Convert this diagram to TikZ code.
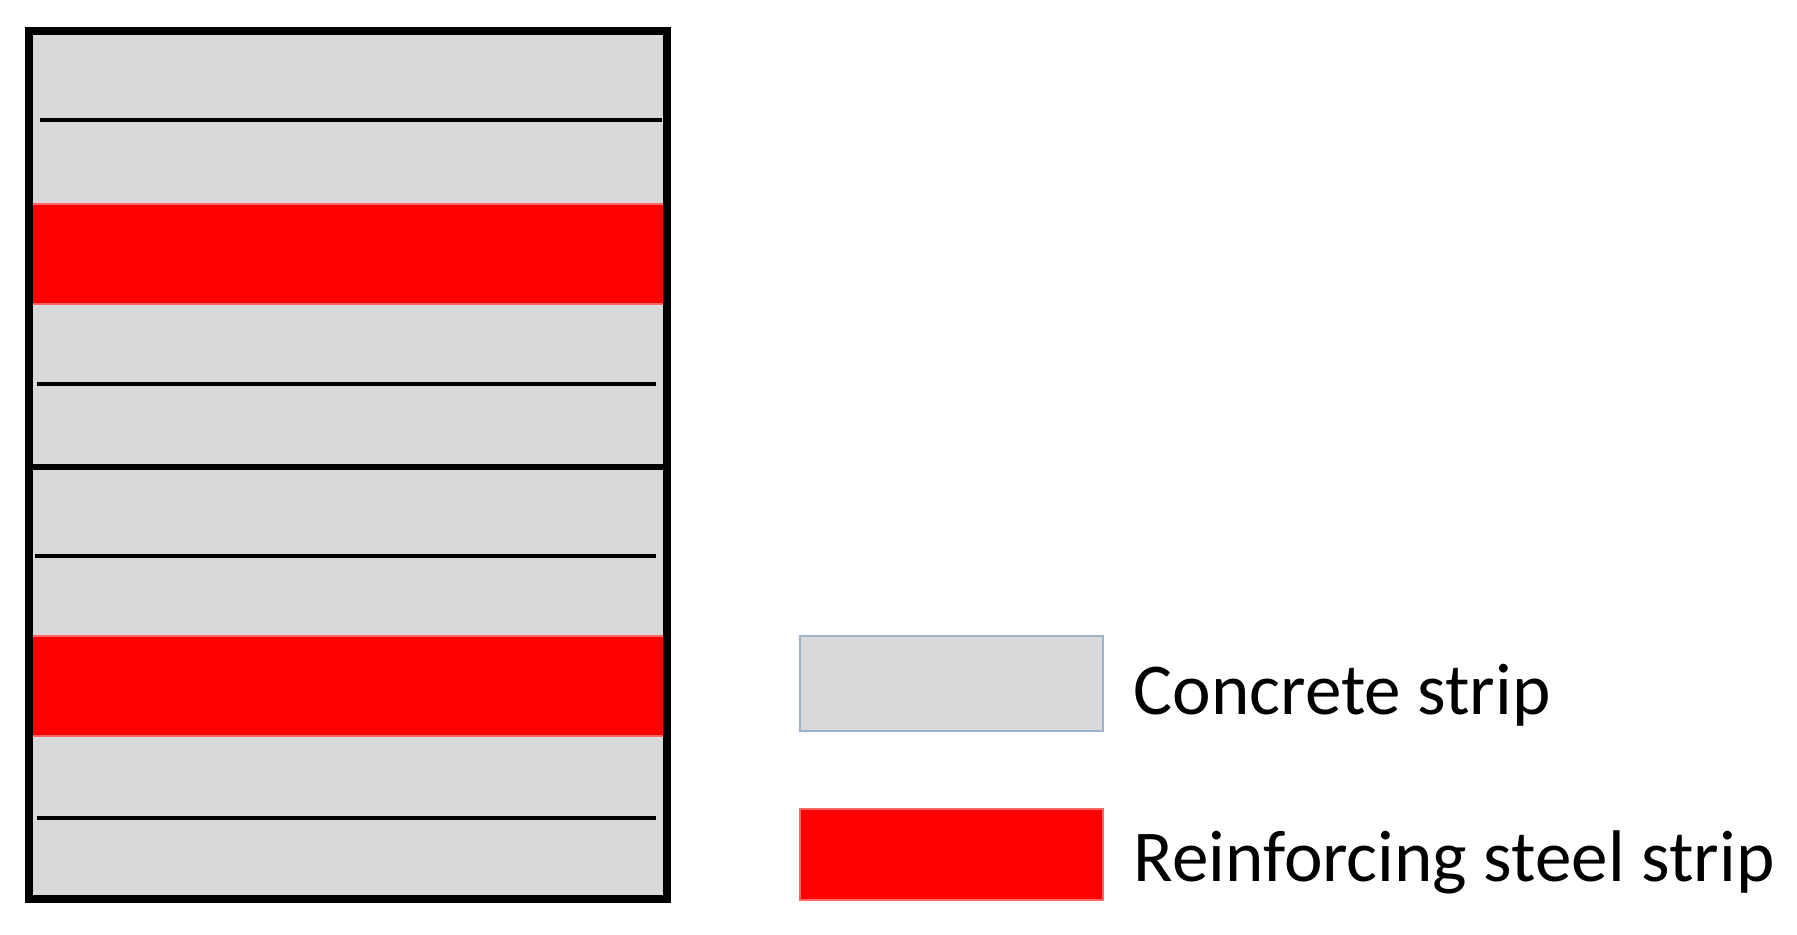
\documentclass[tikz,border=0pt]{standalone}
\usepackage{fontspec}
\setmainfont{Carlito}
\usepackage{tikz}
\definecolor{concrete}{HTML}{D9D9D9}
\definecolor{stripedge}{HTML}{9DB4C8}
\definecolor{steel}{HTML}{FF0000}

\begin{document}
\begin{tikzpicture}[
    band/.style={fill=concrete, draw=stripedge, line width=0.5pt},
    steelband/.style={fill=steel, draw=steel!60!white, line width=0.5pt},
    layerline/.style={black, line width=1.4pt},
    label/.style={anchor=base west, inner sep=0pt, font=\fontsize{20.8}{25}\selectfont}]
    \useasboundingbox (0,0) rectangle (17.97,9.35);
    \filldraw[band] (0.29,0.36) rectangle (6.67,9.04);
    \filldraw[steelband] (0.29,6.31) rectangle (6.67,7.31);
    \filldraw[steelband] (0.29,1.99) rectangle (6.67,2.99);
    \draw[layerline] (0.40,8.15) -- (6.62,8.15);
    \draw[layerline] (0.37,5.51) -- (6.56,5.51);
    \draw[layerline] (0.35,3.79) -- (6.56,3.79);
    \draw[layerline] (0.37,1.17) -- (6.56,1.17);
    \draw[black, line width=1.6pt] (0.29,4.68) -- (6.67,4.68);
    \draw[black, line width=2pt] (0.29,0.36) rectangle (6.67,9.04);
    \filldraw[band] (8.00,2.04) rectangle (11.03,2.99);
    \filldraw[steelband] (8.00,0.35) rectangle (11.03,1.26);
    \node[label] (concretelabel) at (11.33,2.20) {Concrete strip};
    \node[label] (steellabel) at (11.33,0.53) {Reinforcing steel strip};
\end{tikzpicture}
\end{document}
